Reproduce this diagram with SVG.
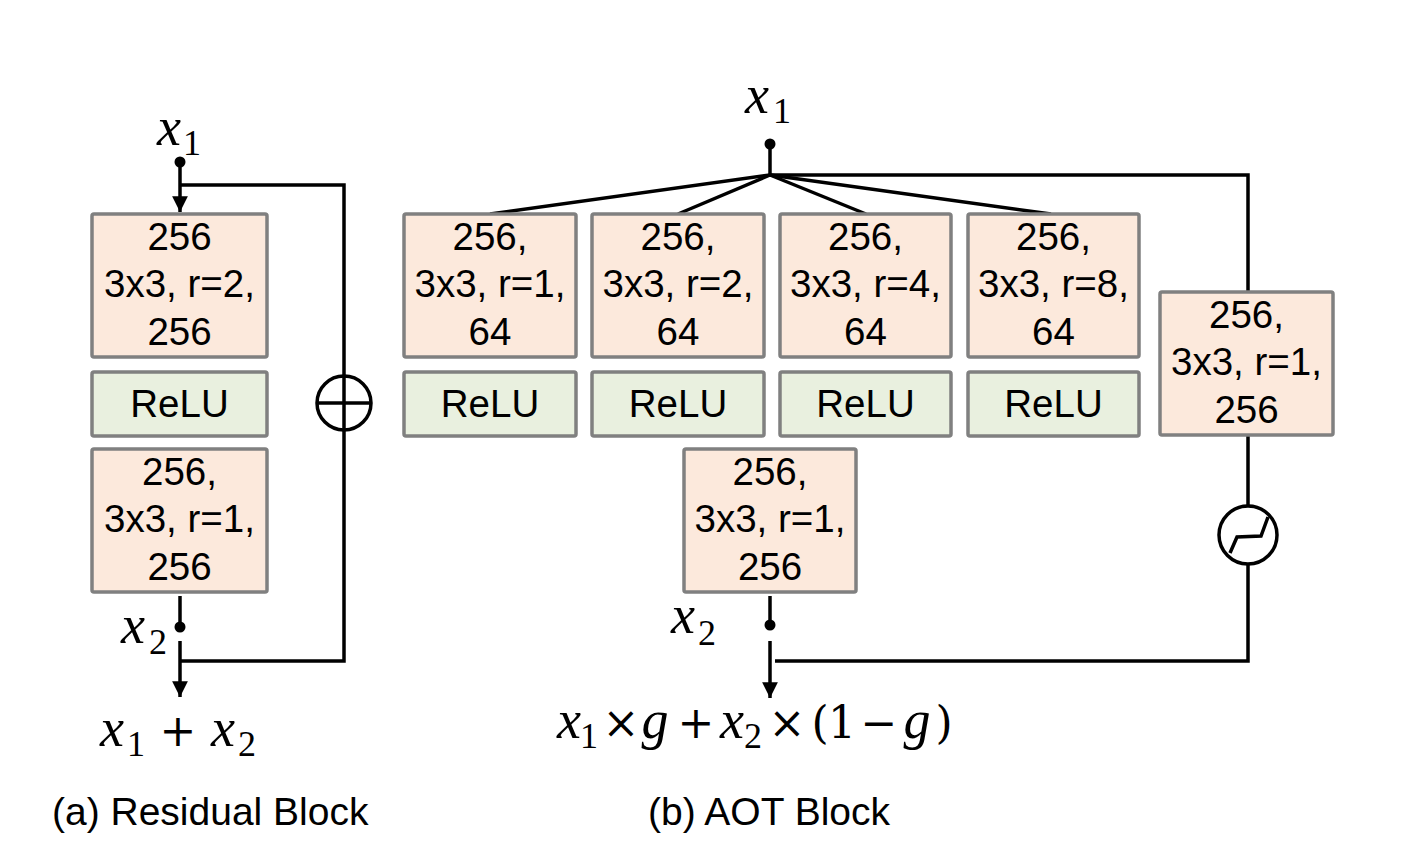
<svg xmlns="http://www.w3.org/2000/svg" width="1419" height="864" viewBox="0 0 1419 864">
<style>
.conv{fill:#FCE9DC;stroke:#808080;stroke-width:3.5}
.relu{fill:#E9F0DF;stroke:#808080;stroke-width:3.5}
.t{font-family:"Liberation Sans",Arial,sans-serif;font-size:38.5px;fill:#000;text-anchor:middle}
.cap{font-family:"Liberation Sans",Arial,sans-serif;font-size:39px;fill:#000}
.m{font-family:"Liberation Serif","DejaVu Serif",serif;font-style:italic;font-size:54px;fill:#000;text-anchor:middle}
.s{font-family:"Liberation Serif","DejaVu Serif",serif;font-style:normal;font-size:36px;fill:#000;text-anchor:middle}
.o{font-family:"DejaVu Serif","Liberation Serif",serif;font-style:normal;font-size:44px;fill:#000;text-anchor:middle}
.ln{fill:none;stroke:#000;stroke-width:3.5}
</style>
<defs>
<marker id="ah" viewBox="0 0 10 10" refX="10" refY="5" markerWidth="4.5" markerHeight="4.5" orient="auto" markerUnits="strokeWidth">
<path d="M0,0 L10,5 L0,10 z" fill="#000"/>
</marker>
</defs>
<rect width="1419" height="864" fill="#fff"/>

<g id="connectors">
<circle cx="180" cy="162" r="5.5" fill="#000"/>
<line class="ln" x1="180" y1="162" x2="180" y2="212" marker-end="url(#ah)"/>
<polyline class="ln" points="180,185 344,185 344,661 180,661"/>
<line class="ln" x1="180" y1="596" x2="180" y2="627"/>
<circle cx="180" cy="627" r="5.5" fill="#000"/>
<line class="ln" x1="180" y1="641" x2="180" y2="697" marker-end="url(#ah)"/>
<circle cx="770" cy="144" r="5.5" fill="#000"/>
<line class="ln" x1="770" y1="144" x2="770" y2="175"/>
<line class="ln" x1="770" y1="175" x2="490" y2="214"/>
<line class="ln" x1="770" y1="175" x2="678" y2="214"/>
<line class="ln" x1="770" y1="175" x2="866" y2="214"/>
<line class="ln" x1="770" y1="175" x2="1051" y2="214"/>
<polyline class="ln" points="770,175 1248,175 1248,292"/>
<polyline class="ln" points="1248,435 1248,661 775,661"/>
<line class="ln" x1="770" y1="596" x2="770" y2="625"/>
<circle cx="770" cy="625" r="5.5" fill="#000"/>
<line class="ln" x1="770" y1="641" x2="770" y2="698" marker-end="url(#ah)"/>
</g>

<g id="oplus">
<circle cx="344" cy="403" r="27" fill="#fff" stroke="#000" stroke-width="3.5"/>
<line class="ln" x1="317" y1="403" x2="371" y2="403"/>
<line class="ln" x1="344" y1="376" x2="344" y2="430"/>
</g>

<g id="gate">
<circle cx="1248" cy="535" r="29" fill="#fff" stroke="#000" stroke-width="3.5"/>
<polyline class="ln" points="1230,553 1237,537 1261,536 1268,517"/>
</g>

<g id="res_conv1"><rect class="conv" x="92" y="214" width="175" height="143" rx="2"/>
<text class="t" x="179.5" y="250">256</text><text class="t" x="179.5" y="297">3x3, r=2,</text><text class="t" x="179.5" y="345">256</text></g>
<g id="res_relu"><rect class="relu" x="92" y="372" width="175" height="64" rx="2"/>
<text class="t" x="179.5" y="417">ReLU</text></g>
<g id="res_conv2"><rect class="conv" x="92" y="449" width="175" height="143" rx="2"/>
<text class="t" x="179.5" y="485">256,</text><text class="t" x="179.5" y="532">3x3, r=1,</text><text class="t" x="179.5" y="580">256</text></g>

<g id="aot_conv1"><rect class="conv" x="404" y="214" width="172" height="143" rx="2"/>
<text class="t" x="490" y="250">256,</text><text class="t" x="490" y="297">3x3, r=1,</text><text class="t" x="490" y="345">64</text></g>
<g id="aot_conv2"><rect class="conv" x="592" y="214" width="172" height="143" rx="2"/>
<text class="t" x="678" y="250">256,</text><text class="t" x="678" y="297">3x3, r=2,</text><text class="t" x="678" y="345">64</text></g>
<g id="aot_conv3"><rect class="conv" x="780" y="214" width="171" height="143" rx="2"/>
<text class="t" x="865.5" y="250">256,</text><text class="t" x="865.5" y="297">3x3, r=4,</text><text class="t" x="865.5" y="345">64</text></g>
<g id="aot_conv4"><rect class="conv" x="968" y="214" width="171" height="143" rx="2"/>
<text class="t" x="1053.5" y="250">256,</text><text class="t" x="1053.5" y="297">3x3, r=8,</text><text class="t" x="1053.5" y="345">64</text></g>

<g id="aot_relu1"><rect class="relu" x="404" y="372" width="172" height="64" rx="2"/><text class="t" x="490" y="417">ReLU</text></g>
<g id="aot_relu2"><rect class="relu" x="592" y="372" width="172" height="64" rx="2"/><text class="t" x="678" y="417">ReLU</text></g>
<g id="aot_relu3"><rect class="relu" x="780" y="372" width="171" height="64" rx="2"/><text class="t" x="865.5" y="417">ReLU</text></g>
<g id="aot_relu4"><rect class="relu" x="968" y="372" width="171" height="64" rx="2"/><text class="t" x="1053.5" y="417">ReLU</text></g>

<g id="aot_fuse"><rect class="conv" x="684" y="449" width="172" height="143" rx="2"/>
<text class="t" x="770" y="485">256,</text><text class="t" x="770" y="532">3x3, r=1,</text><text class="t" x="770" y="580">256</text></g>
<g id="aot_gate_conv"><rect class="conv" x="1160" y="292" width="173" height="143" rx="2"/>
<text class="t" x="1246.5" y="328">256,</text><text class="t" x="1246.5" y="375">3x3, r=1,</text><text class="t" x="1246.5" y="423">256</text></g>

<g id="labels">
<text class="m" x="169" y="145">x<tspan class="s" x="192" y="155">1</tspan></text>
<text class="m" x="133" y="643">x<tspan class="s" x="158" y="654">2</tspan></text>
<text class="m" x="112" y="746">x<tspan class="s" x="136" y="756">1</tspan></text>
<text class="o" x="178" y="746">+</text>
<text class="m" x="223" y="746">x<tspan class="s" x="247" y="756">2</tspan></text>

<text class="m" x="757" y="113">x<tspan class="s" x="782" y="123">1</tspan></text>
<text class="m" x="683" y="633">x<tspan class="s" x="707" y="645">2</tspan></text>

<text class="m" x="569" y="738">x<tspan class="s" x="589" y="748">1</tspan></text>
<text class="o" x="621" y="738">×</text>
<text class="m" x="655" y="738">g</text>
<text class="o" x="696" y="738">+</text>
<text class="m" x="732" y="738">x<tspan class="s" x="753" y="748">2</tspan></text>
<text class="o" x="787" y="738">×</text>
<text class="o" x="820" y="738" font-size="48">(</text>
<text class="o" x="842" y="738">1</text>
<text class="o" x="879" y="738">−</text>
<text class="m" x="917" y="738">g</text>
<text class="o" x="944" y="738" font-size="48">)</text>

<text class="cap" x="52" y="825">(a) Residual Block</text>
<text class="cap" x="648" y="825">(b) AOT Block</text>
</g>
</svg>
